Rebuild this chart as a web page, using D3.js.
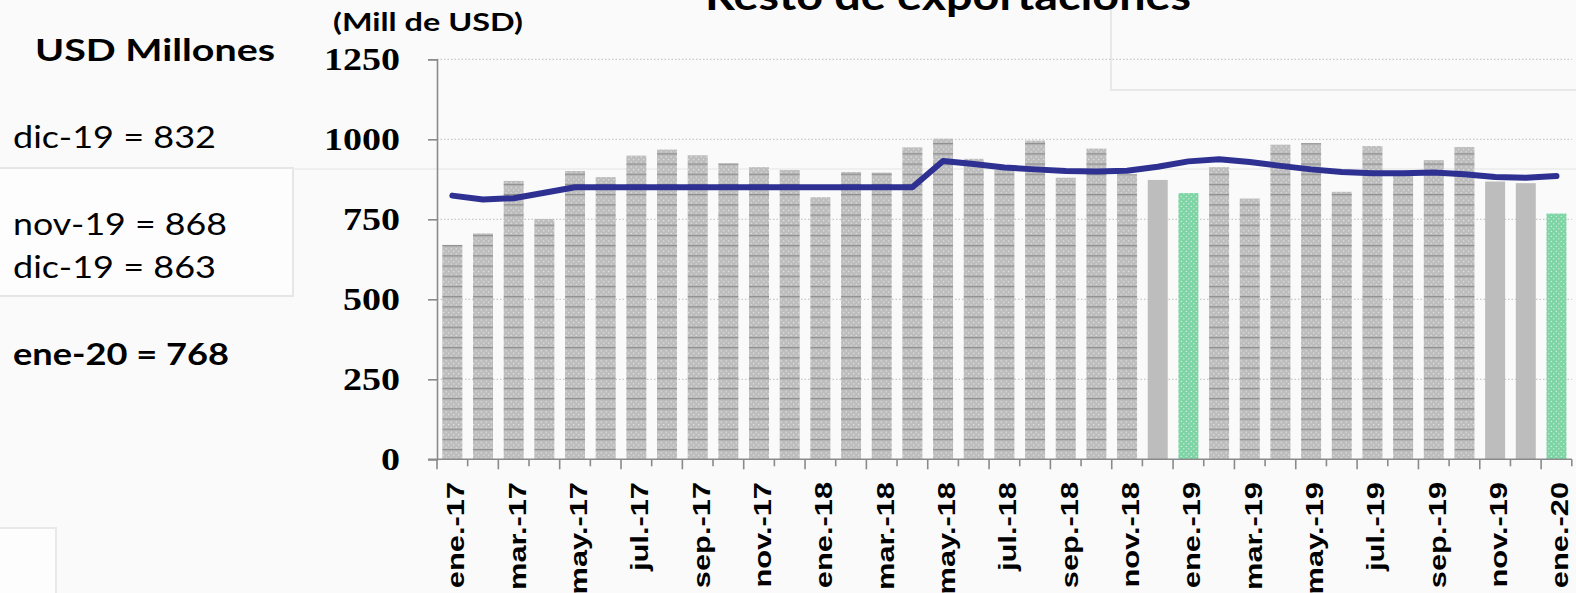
<!DOCTYPE html>
<html>
<head>
<meta charset="utf-8">
<script src="https://cdn.jsdelivr.net/npm/d3@7"></script>
<style>
  body { margin: 0; background: #fafafa; }
  svg { display: block; }
</style>
</head>
<body>
<div id="chart"></div>
<script>
// Datos del grafico
var meses = ["ene.-17","feb.-17","mar.-17","abr.-17","may.-17","jun.-17","jul.-17","ago.-17","sep.-17","oct.-17","nov.-17","dic.-17",
             "ene.-18","feb.-18","mar.-18","abr.-18","may.-18","jun.-18","jul.-18","ago.-18","sep.-18","oct.-18","nov.-18","dic.-18",
             "ene.-19","feb.-19","mar.-19","abr.-19","may.-19","jun.-19","jul.-19","ago.-19","sep.-19","oct.-19","nov.-19","dic.-19",
             "ene.-20"];
var exportaciones = [670, 706, 870, 751, 901, 882, 949, 968, 950, 925, 913, 904,
                     819, 898, 896, 975, 1002, 939, 904, 996, 880, 971, 891, 873,
                     832, 913, 815, 983, 988, 836, 979, 888, 935, 976, 868, 863,
                     768];
var tendencia = [824, 812, 816, 833, 850, 850, 850, 850, 850, 850, 850, 850,
                 850, 850, 850, 850, 932, 923, 912, 906, 901, 899, 902, 914,
                 931, 938, 929, 917, 906, 898, 894, 894, 896, 891, 882, 880,
                 885];
var mesesComparacion = ["dic.-18", "nov.-19", "dic.-19"];
var mesesActuales = ["ene.-19", "ene.-20"];
var ticksY = [0, 250, 500, 750, 1000, 1250];
var notas = ["dic-19 = 832", "nov-19 = 868", "dic-19 = 863"];
var notaFinal = "ene-20 = 768";

const width = 1576, height = 593;
const x0 = 437, x1 = 437 + 37 * 30.67, y0 = 459.3, y1 = 59.3;

var svg = d3.select("#chart")
            .append("svg")
            .attr("width", width)
            .attr("height", height);

// motivos de relleno de las barras
var defs = svg.append("defs");
var pGris = defs.append("pattern")
  .attr("id", "gris")
  .attr("patternUnits", "userSpaceOnUse")
  .attr("width", 5).attr("height", 10.2)
  .attr("y", 0.3);
pGris.append("rect").attr("width", 5).attr("height", 10.2).attr("fill", "#bdbdbd");
pGris.append("rect").attr("width", 5).attr("height", 1.2).attr("fill", "#8e8e8e");
pGris.append("circle").attr("cx", 1.2).attr("cy", 3.6).attr("r", 0.6).attr("fill", "#f2f2f2");
pGris.append("circle").attr("cx", 3.7).attr("cy", 6.2).attr("r", 0.6).attr("fill", "#f2f2f2");
pGris.append("circle").attr("cx", 1.2).attr("cy", 8.6).attr("r", 0.6).attr("fill", "#f2f2f2");

var pVerde = defs.append("pattern")
  .attr("id", "verde")
  .attr("patternUnits", "userSpaceOnUse")
  .attr("width", 5).attr("height", 5);
pVerde.append("rect").attr("width", 5).attr("height", 5).attr("fill", "#7ed4a5");
pVerde.append("circle").attr("cx", 1.3).attr("cy", 1.3).attr("r", 0.65).attr("fill", "#e8f8ee");
pVerde.append("circle").attr("cx", 3.8).attr("cy", 3.8).attr("r", 0.65).attr("fill", "#e8f8ee");

// cajas de fondo (restos de la diapositiva)
svg.append("rect").attr("x", -2).attr("y", 168).attr("width", 295).attr("height", 128)
  .attr("fill", "#fdfdfd").attr("stroke", "#e6e6e6").attr("stroke-width", 2);
svg.append("line").attr("x1", 293).attr("x2", width).attr("y1", 169).attr("y2", 169)
  .attr("stroke", "#efefef").attr("stroke-width", 2);
svg.append("rect").attr("x", 1111).attr("y", -2).attr("width", 470).attr("height", 92)
  .attr("fill", "#fafafa").attr("stroke", "#e8e8e8").attr("stroke-width", 2);
svg.append("rect").attr("x", -2).attr("y", 528).attr("width", 58).attr("height", 70)
  .attr("fill", "#fdfdfd").attr("stroke", "#e8e8e8").attr("stroke-width", 2);

// escalas
var x = d3.scaleBand()
  .domain(meses)
  .range([x0, x1])
  .paddingInner(0.348)
  .paddingOuter(0.174);

var y = d3.scaleLinear()
  .domain([0, 1250])
  .range([y0, y1]);

// lineas de cuadricula punteadas
svg.append("g")
  .selectAll("line")
  .data(ticksY.filter(d => d > 0))
  .join("line")
  .attr("x1", x0).attr("x2", x1)
  .attr("y1", d => y(d)).attr("y2", d => y(d))
  .attr("stroke", "#c8c8c8")
  .attr("stroke-width", 1.3)
  .attr("stroke-dasharray", "1.5,2");

// barras
function relleno(m) {
  if (mesesActuales.includes(m)) return "url(#verde)";
  if (mesesComparacion.includes(m)) return "#bdbdbd";
  return "url(#gris)";
}

svg.append("g")
  .selectAll("rect")
  .data(meses)
  .join("rect")
  .attr("x", d => x(d))
  .attr("width", x.bandwidth())
  .attr("y", (d, i) => y(exportaciones[i]))
  .attr("height", (d, i) => y0 - y(exportaciones[i]))
  .attr("fill", d => relleno(d));

// linea de tendencia
var linea = d3.line()
  .x((d, i) => x(meses[i]) + x.bandwidth() / 2)
  .y(d => y(d));

svg.append("path")
  .datum(tendencia)
  .attr("d", linea)
  .attr("fill", "none")
  .attr("stroke", "#2e3192")
  .attr("stroke-width", 6)
  .attr("stroke-linejoin", "round")
  .attr("stroke-linecap", "round");

// eje Y
var ejeY = svg.append("g").attr("transform", "translate(" + x0 + ",0)")
  .call(d3.axisLeft(y).tickValues(ticksY).tickSize(9).tickFormat(""));
ejeY.selectAll("path, line").attr("stroke", "#8a8a8a").attr("stroke-width", 1.6);

svg.append("g")
  .selectAll("text")
  .data(ticksY)
  .join("text")
  .attr("x", 400)
  .attr("y", d => y(d) + 11)
  .attr("text-anchor", "end")
  .attr("font-family", "Liberation Serif")
  .attr("font-weight", "bold")
  .attr("font-size", 31)
  .attr("textLength", d => String(d).length * 19)
  .attr("lengthAdjust", "spacingAndGlyphs")
  .text(d => d);

// eje X
svg.append("line")
  .attr("x1", x0 - 9).attr("x2", x1)
  .attr("y1", y0).attr("y2", y0)
  .attr("stroke", "#8a8a8a").attr("stroke-width", 1.6);

svg.append("g")
  .selectAll("line")
  .data(d3.range(meses.length + 1))
  .join("line")
  .attr("x1", k => x0 + k * x.step())
  .attr("x2", k => x0 + k * x.step())
  .attr("y1", y0)
  .attr("y2", k => y0 + (k % 2 === 0 ? 10 : 7))
  .attr("stroke", "#8a8a8a").attr("stroke-width", 1.6);

var etiquetas = svg.append("g")
  .selectAll("text")
  .data(meses.filter((d, i) => i % 2 === 0))
  .join("text")
  .attr("transform", d => "translate(" + (x(d) + x.bandwidth() / 2) + ",482) rotate(-90)")
  .attr("x", 0)
  .attr("y", 12)
  .attr("text-anchor", "end")
  .attr("font-family", "Liberation Sans")
  .attr("font-weight", "bold")
  .attr("font-size", 23)
  .attr("fill", "#000")
  .text(d => d);
etiquetas.each(function() {
  var largo = this.getComputedTextLength();
  d3.select(this).attr("textLength", largo * 1.34).attr("lengthAdjust", "spacingAndGlyphs");
});

// textos
function texto(t, px, py, size, peso, largo, anchor) {
  svg.append("text")
    .attr("x", px).attr("y", py)
    .attr("font-family", "Lato")
    .attr("font-weight", peso)
    .attr("font-size", size)
    .attr("text-anchor", anchor || "start")
    .attr("textLength", largo)
    .attr("lengthAdjust", "spacingAndGlyphs")
    .text(t);
}

texto("Resto de exportaciones", 948, 10, 40, "bold", 486, "middle");
texto("(Mill de USD)", 333, 31, 25, "bold", 190);
texto("USD Millones", 35, 61, 31, "bold", 240);
texto(notas[0], 13, 148, 31, "normal", 203);
texto(notas[1], 13, 235, 31, "normal", 214);
texto(notas[2], 13, 278, 31, "normal", 203);
texto(notaFinal, 13, 365, 31, "bold", 216);
</script>
</body>
</html>
